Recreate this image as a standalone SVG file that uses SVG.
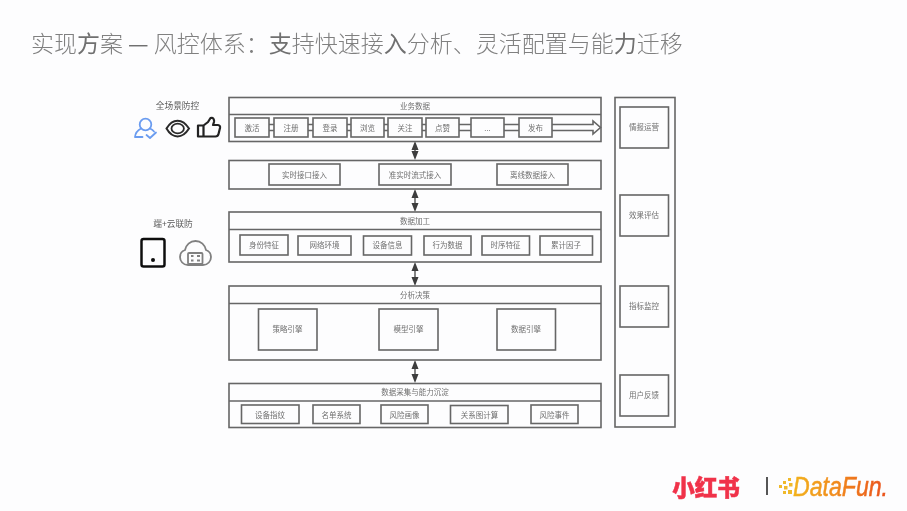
<svg xmlns="http://www.w3.org/2000/svg" width="907" height="511" viewBox="0 0 907 511">
<style>
.b{fill:none;stroke:#666;stroke-width:1.600}
.l{fill:none;stroke:#666;stroke-width:1.600}
.t{font-family:"Noto Sans CJK SC","Liberation Sans",sans-serif;font-size:7.500px;fill:#707070;text-anchor:middle}
.s{font-family:"Noto Sans CJK SC","Liberation Sans",sans-serif;font-size:8.700px;fill:#5a5a5a;text-anchor:middle}
.a{fill:#3c3c3c}
.w{font-weight:400;fill:#707070}
</style>
<defs>
<filter id="s" x="-5%" y="-5%" width="110%" height="110%"><feGaussianBlur stdDeviation="0.45"/></filter>
<linearGradient id="g" gradientUnits="userSpaceOnUse" x1="792" x2="888" y1="0" y2="0"><stop offset="0" stop-color="#f3b41e"/><stop offset="0.5" stop-color="#f0861e"/><stop offset="1" stop-color="#ea4f1a"/></linearGradient>
</defs>
<rect width="907" height="511" fill="#fdfdfe"/>
<g filter="url(#s)">
<text id="title" x="31" y="52" font-family="'Noto Sans CJK SC','Liberation Sans',sans-serif" font-size="23" font-weight="300" fill="#808080" xml:space="preserve">实现<tspan class="w">方</tspan>案 <tspan class="w">—</tspan> 风控体系：<tspan class="w">支</tspan>持快速接<tspan class="w">入</tspan>分析、灵活配置与能<tspan class="w">力</tspan>迁移</text>

<g id="connectors">
<path class="l" d="M269 124.500H274M269 130.500H274M308 124.500H313M308 130.500H313M347 124.500H351M347 130.500H351M384 124.500H388M384 130.500H388M422 124.500H426M422 130.500H426M459 124.500H471M459 130.500H471M504 124.500H519M504 130.500H519"/>
<path class="l" d="M552 124.500H593V121L600.500 127.500L593 134V130.500H552"/>
<path class="l" d="M415 146V155M415 194V207M415 267V281M415 365V378"/>
<path class="a" d="M415 141l3.500 9h-7zM415 160l3.500-9h-7zM415 189l3.500 9h-7zM415 212l3.500-9h-7zM415 262l3.500 9h-7zM415 286l3.500-9h-7zM415 360l3.500 9h-7zM415 383l3.500-9h-7z"/>
</g>

<g id="row-business">
<rect class="b" x="229" y="97.500" width="372" height="44"/><path class="l" d="M229 114.500H601"/>
<text class="t" x="415" y="109">业务数据</text>
<rect class="b" x="235" y="118" width="34" height="19"/><text class="t" x="252" y="130.500">激活</text>
<rect class="b" x="274" y="118" width="34" height="19"/><text class="t" x="291" y="130.500">注册</text>
<rect class="b" x="313" y="118" width="34" height="19"/><text class="t" x="330" y="130.500">登录</text>
<rect class="b" x="351" y="118" width="33" height="19"/><text class="t" x="367.500" y="130.500">浏览</text>
<rect class="b" x="388" y="118" width="34" height="19"/><text class="t" x="405" y="130.500">关注</text>
<rect class="b" x="426" y="118" width="33" height="19"/><text class="t" x="442.500" y="130.500">点赞</text>
<rect class="b" x="471" y="118" width="33" height="19"/><text class="t" x="487.500" y="130.500">...</text>
<rect class="b" x="519" y="118" width="33" height="19"/><text class="t" x="535.500" y="130.500">发布</text>
</g>

<g id="row-access">
<rect class="b" x="229" y="160.500" width="372" height="28.500"/>
<rect class="b" x="269" y="164" width="71" height="21"/><text class="t" x="304.500" y="177.500">实时接口接入</text>
<rect class="b" x="379" y="164" width="72" height="21"/><text class="t" x="415" y="177.500">准实时流式接入</text>
<rect class="b" x="497" y="164" width="71" height="21"/><text class="t" x="532.500" y="177.500">离线数据接入</text>
</g>

<g id="row-processing">
<rect class="b" x="229" y="212" width="372" height="50"/><path class="l" d="M229 229.500H601"/>
<text class="t" x="415" y="224">数据加工</text>
<rect class="b" x="240" y="235" width="48" height="20"/><text class="t" x="264" y="248">身份特征</text>
<rect class="b" x="298" y="236" width="53" height="19"/><text class="t" x="324.500" y="248">网络环境</text>
<rect class="b" x="363.500" y="236" width="48" height="19"/><text class="t" x="387.500" y="248">设备信息</text>
<rect class="b" x="424" y="236" width="47" height="19"/><text class="t" x="447.500" y="248">行为数据</text>
<rect class="b" x="482" y="236" width="47.500" height="19"/><text class="t" x="505.500" y="248">时序特征</text>
<rect class="b" x="540" y="236" width="52.500" height="19"/><text class="t" x="566" y="248">累计因子</text>
</g>

<g id="row-decision">
<rect class="b" x="229" y="286" width="372" height="74"/><path class="l" d="M229 303.500H601"/>
<text class="t" x="415" y="297.500">分析决策</text>
<rect class="b" x="258.500" y="309" width="58.500" height="41"/><text class="t" x="287.500" y="332">策略引擎</text>
<rect class="b" x="379" y="309" width="59" height="41"/><text class="t" x="408.500" y="332">模型引擎</text>
<rect class="b" x="497" y="309" width="58.500" height="41"/><text class="t" x="526" y="332">数据引擎</text>
</g>

<g id="row-collect">
<rect class="b" x="229" y="383.500" width="372" height="44"/><path class="l" d="M229 401H601"/>
<text class="t" x="415" y="395">数据采集与能力沉淀</text>
<rect class="b" x="241.500" y="405" width="57.500" height="18.500"/><text class="t" x="270" y="417.500">设备指纹</text>
<rect class="b" x="313" y="405" width="47" height="18.500"/><text class="t" x="336.500" y="417.500">名单系统</text>
<rect class="b" x="381" y="405" width="47" height="18.500"/><text class="t" x="404.500" y="417.500">风险画像</text>
<rect class="b" x="450.500" y="405.500" width="57.500" height="18"/><text class="t" x="479.500" y="417.500">关系图计算</text>
<rect class="b" x="531" y="405" width="47" height="18.500"/><text class="t" x="554.500" y="417.500">风险事件</text>
</g>

<g id="side">
<rect class="b" x="615" y="97.500" width="60" height="329.500"/>
<rect class="b" x="620" y="107" width="48.500" height="41"/><text class="t" x="644" y="130">情报运营</text>
<rect class="b" x="620" y="195" width="48.500" height="41"/><text class="t" x="644" y="218">效果评估</text>
<rect class="b" x="620" y="286" width="48.500" height="41"/><text class="t" x="644" y="309">指标监控</text>
<rect class="b" x="620" y="375" width="48.500" height="41"/><text class="t" x="644" y="398">用户反馈</text>
</g>

<g id="scene-label">
<text class="s" x="177.500" y="109">全场景防控</text>
<g id="icon-user" fill="none" stroke="#6b9cf0" stroke-width="1.800" stroke-linecap="round" stroke-linejoin="round">
<circle cx="145.500" cy="124.500" r="5.800"/><path d="M141 128.500c-3 1.500-5.500 4-6 8.500h7.500M150 128.500c1.500 .8 3 1.800 4 3M146.500 135l3.500 3 6-5.500"/>
</g>
<g id="icon-eye" fill="none" stroke="#2b2b2b" stroke-width="2">
<path d="M166.500 128.500c6-10.500 16-10.500 22.500 0c-6.500 10.500-16.500 10.500-22.500 0z"/><ellipse cx="177.700" cy="128.500" rx="6.200" ry="4.800" stroke-width="1.800"/>
</g>
<g id="icon-like" fill="none" stroke="#222" stroke-width="2.200" stroke-linejoin="round">
<path d="M198 125.500h5.500v11h-5.500zM203.500 125.500l4.500-3.500 2.500-4c2.500-1 4 1.500 3.500 4l-1 3h5c1.800 0 2.300 1.500 2 3l-1.500 6c-.4 1.500-1.500 2.500-3 2.500h-12.500"/>
</g>
</g>

<g id="device-label">
<text class="s" x="173" y="227">端+云联防</text>
<g id="icon-phone">
<rect x="141.500" y="239" width="23" height="27.500" rx="2" fill="none" stroke="#111" stroke-width="2.500"/>
<circle cx="153" cy="260" r="2" fill="#111"/>
</g>
<g id="icon-cloud" fill="none" stroke="#808080" stroke-width="1.800">
<path d="M188 265c-5 0-8-4-8-8c0-3.500 2-6 5-7c1-5 5-9 10.500-9c5.500 0 9.500 4 10.500 9c3 1 5 3.500 5 7c0 4-3 8-8 8z"/>
<rect x="188" y="253" width="14.500" height="11" rx="1" fill="#fdfdfe"/>
<path d="M191 256h2.500M191 260.500h2.500M197 256h3M197 260.500h3" stroke-width="2"/>
</g>
</g>

<g id="logo-xhs">
<text x="706" y="496" font-family="'Noto Sans CJK SC',sans-serif" font-size="22.500" font-weight="900" fill="#f0314a" stroke="#f0314a" stroke-width="0.500" text-anchor="middle">小红书</text>
</g>
<path d="M767 477V495" stroke="#444" stroke-width="1.800"/>
<g id="logo-datafun">
<g fill="#f0b92c"><rect x="783" y="481" width="3" height="3"/><rect x="788" y="478" width="3" height="3"/><rect x="779" y="485" width="3" height="3"/><rect x="784" y="486" width="3.500" height="3.500"/><rect x="789" y="483" width="3.500" height="3.500"/><rect x="783" y="491" width="3" height="3"/><rect x="788" y="490" width="4" height="4"/></g>
<text x="793" y="496" font-family="'Liberation Sans',sans-serif" font-size="27" font-weight="400" font-style="italic" fill="url(#g)" stroke="url(#g)" stroke-width="0.500" textLength="95" lengthAdjust="spacingAndGlyphs">DataFun.</text>
</g>
</g>
</svg>
